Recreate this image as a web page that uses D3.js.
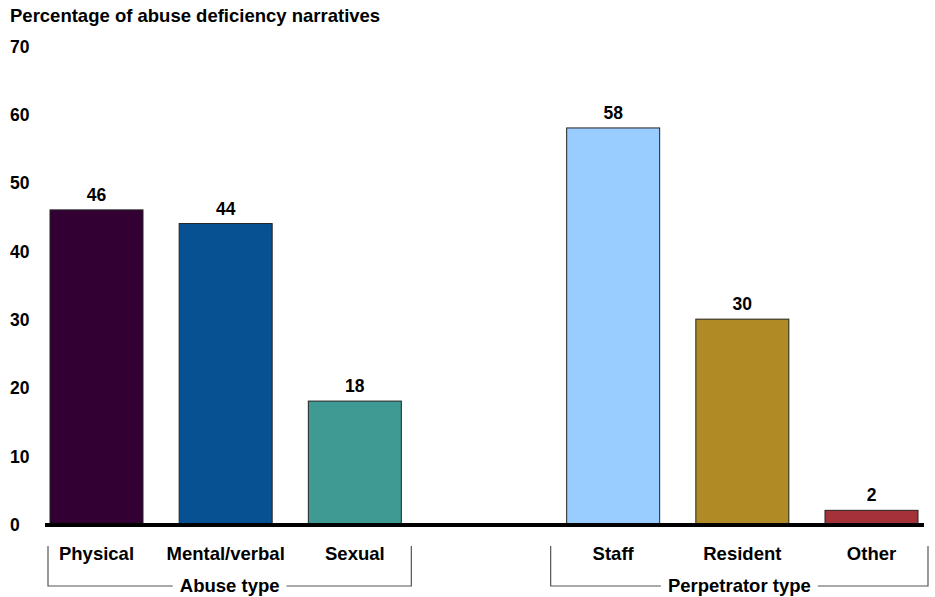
<!DOCTYPE html>
<html lang="en">
<head>
    <meta charset="UTF-8">
    <title>Abuse deficiency narratives</title>
    <style>
        html, body {
            margin: 0px;
            padding: 0px;
            background-color: white;
            font-family: 'Liberation Sans', Arial, sans-serif;
        }

        text {
            font-weight: bold;
            fill: #000;
        }

        .bar {
            stroke: #222;
            stroke-width: 1px;
        }

        .bracket {
            fill: none;
            stroke: #555;
            stroke-width: 1.2px;
        }
    </style>
</head>
<body>
    <div id="vis"></div>
    <script src="https://d3js.org/d3.v7.min.js"></script>
    <script>

        // chart data
        var categories = ["Physical", "Mental/verbal", "Sexual", "", "Staff", "Resident", "Other"];
        var values = [46, 44, 18, null, 58, 30, 2];
        var colors = ["#330033", "#075193", "#409a94", null, "#99ccff", "#b08a25", "#a5323a"];
        var groupNames = ["Abuse type", "Perpetrator type"];
        var groupFirst = [0, 4];
        var groupLast = [2, 6];
        var yTicks = [0, 10, 20, 30, 40, 50, 60, 70];
        var title = "Percentage of abuse deficiency narratives";

        var width = 935;
        var height = 597;

        var svg = d3.select("#vis")
            .append("svg")
            .attr("width", width)
            .attr("height", height);

        var x_scale = d3.scaleBand()
            .domain(d3.range(categories.length))
            .range([50, 918])
            .paddingInner(0.28)
            .paddingOuter(0);

        var y_scale = d3.scaleLinear()
            .domain([0, 70])
            .range([524, 46]);

        // title
        svg.append("text")
            .attr("x", 10)
            .attr("y", 22)
            .style("font-size", "18.5px")
            .text(title);

        // y tick labels (no axis line)
        var y_axis = d3.axisLeft(y_scale)
            .tickValues(yTicks)
            .tickSize(0)
            .tickPadding(0);

        var yg = svg.append("g")
            .attr("class", "y axis")
            .attr("transform", "translate(10,0)")
            .call(y_axis);
        yg.select(".domain").remove();
        yg.selectAll("text")
            .attr("text-anchor", "start")
            .attr("x", 0)
            .attr("dy", "0.36em")
            .style("font-size", "17.5px")
            .style("font-family", "'Liberation Sans', Arial, sans-serif")
            .style("font-weight", "bold")
            .attr("fill", "#000");

        var barData = values.map(function(v, i){
            return { cat: categories[i], value: v, color: colors[i], i: i };
        }).filter(function(d){ return d.value !== null; });

        // bars
        svg.selectAll(".bar")
            .data(barData)
            .enter()
            .append("rect")
            .attr("class", "bar")
            .attr("x", function(d){ return x_scale(d.i); })
            .attr("width", x_scale.bandwidth())
            .attr("y", function(d){ return y_scale(d.value); })
            .attr("height", function(d){ return y_scale(0) - y_scale(d.value); })
            .attr("fill", function(d){ return d.color; });

        // value labels
        svg.selectAll(".label")
            .data(barData)
            .enter()
            .append("text")
            .attr("class", "label")
            .attr("text-anchor", "middle")
            .attr("x", function(d){ return x_scale(d.i) + x_scale.bandwidth() / 2; })
            .attr("y", function(d){ return y_scale(d.value) - 9; })
            .style("font-size", "17.5px")
            .text(function(d){ return d.value; });

        // baseline
        svg.append("line")
            .attr("x1", 45)
            .attr("x2", 924)
            .attr("y1", y_scale(0) + 1)
            .attr("y2", y_scale(0) + 1)
            .attr("stroke", "#000")
            .attr("stroke-width", 4);

        // category labels
        svg.selectAll(".cat")
            .data(barData)
            .enter()
            .append("text")
            .attr("class", "cat")
            .attr("text-anchor", "middle")
            .attr("x", function(d){ return x_scale(d.i) + x_scale.bandwidth() / 2; })
            .attr("y", 560)
            .style("font-size", "18.5px")
            .text(function(d){ return d.cat; });

        // group brackets
        var bracketY = 586;
        groupNames.forEach(function(name, k){
            // the second bracket reaches a bit further left than its first bar
            var left = x_scale(groupFirst[k]) - (k === 0 ? 2 : 16);
            var right = x_scale(groupLast[k]) + x_scale.bandwidth() + 10;
            var mid = (left + right) / 2;

            var label = svg.append("text")
                .attr("text-anchor", "middle")
                .attr("x", mid)
                .attr("y", bracketY + 6)
                .style("font-size", "18.5px")
                .text(name);

            var w = label.node().getComputedTextLength();
            var gap = 7;

            svg.append("path")
                .attr("class", "bracket")
                .attr("d", "M" + (mid - w / 2 - gap) + "," + bracketY +
                    "H" + left + "V" + 546);
            svg.append("path")
                .attr("class", "bracket")
                .attr("d", "M" + (mid + w / 2 + gap) + "," + bracketY +
                    "H" + right + "V" + 546);
        });

    </script>
</body>
</html>
